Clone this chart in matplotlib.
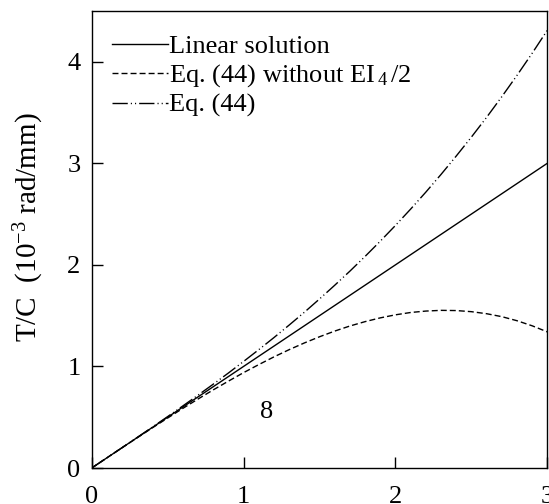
import matplotlib
matplotlib.use("Agg")
import matplotlib.pyplot as plt

plt.rcParams['font.family'] = ['Liberation Serif', 'DejaVu Serif']
plt.rcParams['mathtext.fontset'] = 'custom'
plt.rcParams['mathtext.rm'] = 'Liberation Serif'
plt.rcParams['mathtext.it'] = 'Liberation Serif:italic'

x = [0.0, 0.1, 0.2, 0.3, 0.4, 0.5, 0.6, 0.7, 0.8, 0.9, 1.0,
     1.1, 1.2, 1.3, 1.4, 1.5, 1.6, 1.7, 1.8, 1.9, 2.0,
     2.1, 2.2, 2.3, 2.4, 2.5, 2.6, 2.7, 2.8, 2.9, 3.0]
linear = [0.0, 0.1, 0.2, 0.3, 0.4, 0.5, 0.6, 0.7, 0.8, 0.9, 1.0,
          1.1, 1.2, 1.3, 1.4, 1.5, 1.6, 1.7, 1.8, 1.9, 2.0,
          2.1, 2.2, 2.3, 2.4, 2.5, 2.6, 2.7, 2.8, 2.9, 3.0]
eq44_without = [0.0, 0.100, 0.200, 0.298, 0.396, 0.492, 0.587, 0.679, 0.769, 0.855, 0.939,
                1.018, 1.094, 1.165, 1.231, 1.292, 1.348, 1.398, 1.441, 1.478, 1.508,
                1.531, 1.545, 1.552, 1.550, 1.539, 1.519, 1.490, 1.450, 1.400, 1.340]
eq44 = [0.0, 0.100, 0.200, 0.301, 0.403, 0.506, 0.611, 0.717, 0.825, 0.935, 1.049,
        1.165, 1.284, 1.407, 1.533, 1.664, 1.799, 1.938, 2.083, 2.233, 2.388,
        2.549, 2.716, 2.890, 3.071, 3.258, 3.452, 3.655, 3.865, 4.083, 4.310]

labels = ['Linear solution', r'Eq. (44) without EI$\,_{\mathrm{4}}\,$/2', 'Eq. (44)']
xticks = [0, 1, 2, 3]
yticks = [0, 1, 2, 3, 4]

fig = plt.figure(figsize=(5.49, 5.04), dpi=100)
ax = fig.add_axes([0.167, 0.0714, 0.830, 0.907])

ax.plot(x, linear, color='black', lw=1.0, label=labels[0])
ax.plot(x, eq44_without, color='black', lw=1.0, linestyle=(0, (4.3, 2.2)), label=labels[1])
ax.plot(x, eq44, color='black', lw=1.0, linestyle=(0, (11, 2.2, 0.8, 2.2, 0.8, 2.2)), label=labels[2])

ax.set_xlim(0, 3)
ax.set_ylim(0, 4.5)
ax.set_xticks(xticks)
ax.set_yticks(yticks)
ax.tick_params(direction='in', length=8, width=1, labelsize=19)
ax.tick_params(axis='y', pad=8)
ax.tick_params(axis='x', pad=13)
for s in ax.spines.values():
    s.set_linewidth(1.0)

ax.set_ylabel(r'T/C  (10$^{\mathrm{-3}}$ rad/mm)', fontsize=21)
ax.yaxis.set_label_coords(-0.10, 0.527)

ax.text(1.15, 0.55, '8', fontsize=19, ha='center', va='center')

ax.legend(loc='upper left', frameon=False, fontsize=19, handlelength=2.1,
          handletextpad=0.05, labelspacing=0.16, borderaxespad=0.5,
          bbox_to_anchor=(-0.007, 1.0))

fig.savefig('out.png', dpi=100)
